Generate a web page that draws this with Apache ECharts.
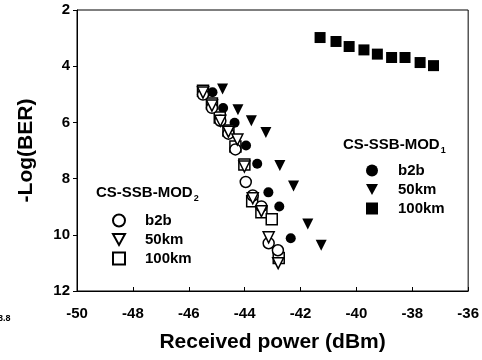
<!DOCTYPE html>
<html>
<head>
<meta charset="utf-8">
<script src="https://cdn.jsdelivr.net/npm/echarts@6/dist/echarts.min.js"></script>
<style>
  html, body { margin: 0; padding: 0; background: #fff; }
  #chart { width: 482px; height: 360px; }
</style>
</head>
<body>
<div id="chart"></div>
<script>
    // ---------------- DATA ----------------
    const xTicks = [-50, -48, -46, -44, -42, -40, -38, -36];
    const yTicks = [2, 4, 6, 8, 10, 12];

    // CS-SSB-MOD1 (filled markers)
    const mod1B2bX = [-45.15, -44.77, -44.36, -43.95, -43.55, -43.15, -42.76, -42.35];
    const mod1B2bY = [4.93, 5.49, 6.01, 6.82, 7.47, 8.49, 8.99, 10.12];
    const mod1Km50X = [-44.79, -44.24, -43.76, -43.24, -42.74, -42.25, -41.74, -41.26];
    const mod1Km50Y = [4.81, 5.55, 5.94, 6.36, 7.53, 8.26, 9.62, 10.37];
    const mod1Km100X = [-41.3, -40.73, -40.26, -39.73, -39.25, -38.74, -38.26, -37.72, -37.24];
    const mod1Km100Y = [2.98, 3.12, 3.30, 3.42, 3.57, 3.69, 3.69, 3.87, 3.98];

    // CS-SSB-MOD2 (open markers)
    const mod2B2bX = [-45.49, -45.17, -44.87, -44.58, -44.33, -43.96, -43.71, -43.40, -43.14, -42.81];
    const mod2B2bY = [5.01, 5.48, 5.94, 6.40, 6.96, 8.12, 8.60, 8.99, 10.30, 10.55];
    const mod2Km50X = [-45.49, -45.17, -44.87, -44.58, -44.26, -44.01, -43.71, -43.40, -43.14, -42.80];
    const mod2Km50Y = [4.94, 5.40, 5.94, 6.33, 6.61, 7.57, 8.70, 9.16, 10.09, 11.01];
    const mod2Km100X = [-45.49, -45.17, -44.89, -44.58, -44.33, -44.01, -43.73, -43.40, -43.03, -42.78];
    const mod2Km100Y = [4.87, 5.33, 5.83, 6.29, 6.86, 7.50, 8.81, 9.20, 9.45, 10.83];

    const FONT = "'Liberation Sans', Arial, sans-serif";
    const DOWN_TRI = 'path://M0,0L10,0L5,9Z';

    function pairs(xs, ys) {
        return xs.map((x, i) => [x, ys[i]]);
    }

    function filled(name, symbol, size, xs, ys) {
        return {
            name: name, type: 'scatter', symbol: symbol, symbolSize: size,
            symbolRotate: symbol === 'triangle' ? 180 : 0,
            itemStyle: { color: '#000', opacity: 1 },
            data: pairs(xs, ys)
        };
    }

    function open(name, symbol, size, xs, ys) {
        return {
            name: name, type: 'scatter', symbol: symbol, symbolSize: size,
            symbolRotate: symbol === 'triangle' ? 180 : 0,
            itemStyle: { color: '#fff', borderColor: '#000', borderWidth: 1.5, opacity: 1 },
            data: pairs(xs, ys)
        };
    }

    // width of a text, to put the subscript right after the title
    function textWidth(txt, font) {
        let ctx = document.createElement('canvas').getContext('2d');
        ctx.font = font;
        return ctx.measureText(txt).width;
    }

    const titleFont = 'bold 15px ' + FONT;
    const titleW = textWidth('CS-SSB-MOD', titleFont);

    let chart = echarts.init(document.getElementById('chart'));

    let legendText = {
        fontFamily: FONT, fontWeight: 'bold', fontSize: 15, color: '#000',
        padding: [0, 0, 0, 15]
    };

    function legendData(prefix) {
        return [
            { name: prefix + ' b2b' },
            { name: prefix + ' 50km', icon: DOWN_TRI },
            { name: prefix + ' 100km' }
        ];
    }

    chart.setOption({
        animation: false,
        backgroundColor: '#fff',
        grid: {
            left: 77, right: 13, top: 10, bottom: 69,
            show: true, borderColor: '#000', borderWidth: 1
        },
        xAxis: {
            type: 'value', min: xTicks[0], max: xTicks[xTicks.length - 1], interval: 2,
            name: 'Received power (dBm)', nameLocation: 'middle', nameGap: 41,
            nameTextStyle: { fontFamily: FONT, fontWeight: 'bold', fontSize: 21, color: '#000' },
            axisLine: { lineStyle: { color: '#000', width: 1 } },
            axisTick: { inside: true, length: 4, lineStyle: { color: '#000' } },
            axisLabel: { margin: 15, fontFamily: FONT, fontWeight: 'bold', fontSize: 15, color: '#000' },
            splitLine: { show: false }
        },
        yAxis: {
            type: 'value', inverse: true, min: yTicks[0], max: yTicks[yTicks.length - 1], interval: 2,
            name: '-Log(BER)', nameLocation: 'middle', nameGap: 40,
            nameTextStyle: { fontFamily: FONT, fontWeight: 'bold', fontSize: 21, color: '#000' },
            axisLine: { lineStyle: { color: '#000', width: 1 } },
            axisTick: { inside: false, length: 4, lineStyle: { color: '#000' } },
            axisLabel: { margin: 7, fontFamily: FONT, fontWeight: 'bold', fontSize: 15, color: '#000' },
            splitLine: { show: false }
        },
        legend: [
            {
                orient: 'vertical', left: 366, top: 163, padding: 0,
                itemWidth: 12, itemHeight: 12, itemGap: 4,
                data: legendData('M1'),
                formatter: n => n.split(' ')[1],
                textStyle: legendText, selectedMode: false
            },
            {
                orient: 'vertical', left: 112, top: 213, padding: 0,
                itemWidth: 12, itemHeight: 12, itemGap: 4,
                data: legendData('M2'),
                formatter: n => n.split(' ')[1],
                textStyle: legendText, selectedMode: false
            }
        ],
        graphic: [
            { type: 'text', left: 343, top: 137, style: { text: 'CS-SSB-MOD', font: titleFont, fill: '#000' } },
            { type: 'text', left: 343 + titleW + 1, top: 146, style: { text: '1', font: 'bold 9px ' + FONT, fill: '#000' } },
            { type: 'text', left: 96, top: 185, style: { text: 'CS-SSB-MOD', font: titleFont, fill: '#000' } },
            { type: 'text', left: 96 + titleW + 1, top: 194, style: { text: '2', font: 'bold 9px ' + FONT, fill: '#000' } },
            { type: 'text', left: -2, top: 314, style: { text: '3.8', font: 'bold 9px ' + FONT, fill: '#000' } }
        ],
        series: [
            filled('M1 b2b', 'circle', 10, mod1B2bX, mod1B2bY),
            filled('M1 50km', 'triangle', 11, mod1Km50X, mod1Km50Y),
            filled('M1 100km', 'rect', 11, mod1Km100X, mod1Km100Y),
            open('M2 100km', 'rect', 11, mod2Km100X, mod2Km100Y),
            open('M2 b2b', 'circle', 11, mod2B2bX, mod2B2bY),
            open('M2 50km', 'triangle', 11, mod2Km50X, mod2Km50Y)
        ]
    });
</script>
</body>
</html>
